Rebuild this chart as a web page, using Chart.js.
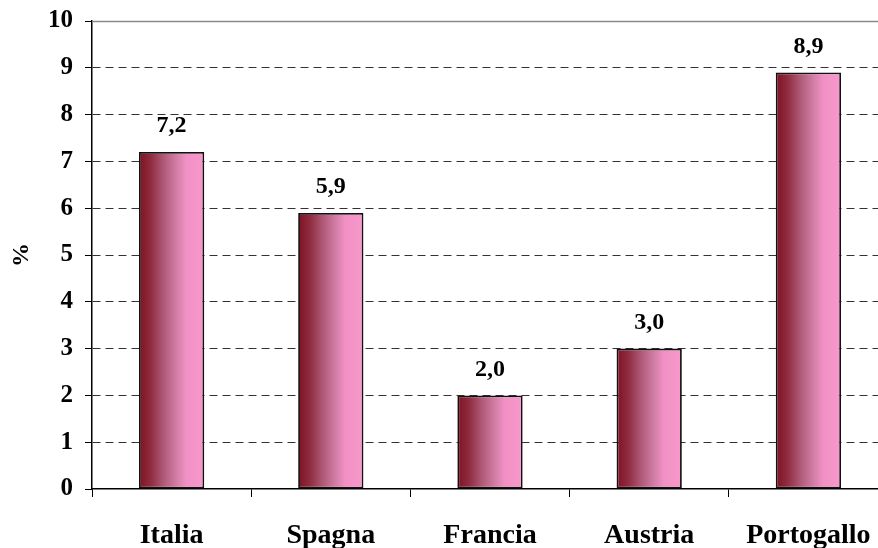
<!DOCTYPE html>
<html>
<head>
<meta charset="utf-8">
<script src="https://cdn.jsdelivr.net/npm/chart.js@4/dist/chart.umd.min.js"></script>
<style>
  html, body { margin: 0; padding: 0; background: #fff; overflow: hidden; }
  #wrap { width: 900px; height: 548px; }
</style>
</head>
<body>
<div id="wrap"><canvas id="c" width="900" height="548"></canvas></div>
<script>
// Paesi e valori percentuali
const paesi = ['Italia', 'Spagna', 'Francia', 'Austria', 'Portogallo'];
const valori = [7.2, 5.9, 2.0, 3.0, 8.9];
const tickY = [0, 1, 2, 3, 4, 5, 6, 7, 8, 9, 10];

const SERIF = "'Liberation Serif', 'Times New Roman', serif";
const BAR_FRACTION = 0.41;

// Horizontal gradient for each bar, from dark red to pink
function barGradient(context) {
  const chart = context.chart;
  const xs = chart.scales.x;
  if (!xs || !chart.chartArea) return '#c06090';
  const cw = xs.width / paesi.length;
  const cx = xs.getPixelForValue(context.dataIndex);
  const w = cw * BAR_FRACTION;
  const g = chart.ctx.createLinearGradient(cx - w / 2, 0, cx + w / 2, 0);
  g.addColorStop(0.00, '#7e1222');
  g.addColorStop(0.18, '#8f2c40');
  g.addColorStop(0.38, '#b05a78');
  g.addColorStop(0.58, '#d27ea6');
  g.addColorStop(0.72, '#f190c4');
  g.addColorStop(1.00, '#f898ca');
  return g;
}

// Value labels above the bars, decimal comma
const valueLabels = {
  id: 'valueLabels',
  afterDatasetsDraw(chart) {
    const ctx = chart.ctx;
    const meta = chart.getDatasetMeta(0);
    ctx.save();
    ctx.font = 'bold 24px ' + SERIF;
    ctx.fillStyle = '#000';
    ctx.textAlign = 'center';
    ctx.textBaseline = 'middle';
    meta.data.forEach((bar, i) => {
      const txt = valori[i].toFixed(1).replace('.', ',');
      ctx.fillText(txt, bar.x, bar.y - 26);
    });
    ctx.restore();
  }
};

// Solid grey line along the top of the plot area
const topLine = {
  id: 'topLine',
  beforeDatasetsDraw(chart) {
    const ctx = chart.ctx;
    const a = chart.chartArea;
    const y = Math.round(chart.scales.y.getPixelForValue(10)) + 0.5;
    ctx.save();
    ctx.strokeStyle = '#8a8a8a';
    ctx.lineWidth = 1.5;
    ctx.beginPath();
    ctx.moveTo(a.left, y);
    ctx.lineTo(a.right, y);
    ctx.stroke();
    ctx.restore();
  }
};

new Chart(document.getElementById('c'), {
  type: 'bar',
  data: {
    labels: paesi,
    datasets: [{
      data: valori,
      backgroundColor: barGradient,
      borderColor: '#111',
      borderWidth: 1.8,
      borderSkipped: false,
      barPercentage: BAR_FRACTION,
      categoryPercentage: 1.0
    }]
  },
  options: {
    responsive: false,
    devicePixelRatio: 1,
    animation: false,
    layout: { padding: { left: 0, top: 21, right: 12, bottom: 0 } },
    plugins: {
      legend: { display: false },
      tooltip: { enabled: false }
    },
    scales: {
      x: {
        grid: {
          display: true,
          drawOnChartArea: false,
          offset: true,
          color: '#000',
          tickColor: '#000',
          tickLength: 8,
          lineWidth: 1
        },
        border: { display: true, color: '#000', width: 1.5 },
        ticks: {
          color: '#000',
          font: { family: SERIF, size: 28, weight: 'bold' },
          padding: 22,
          maxRotation: 0,
          autoSkip: false
        },
        afterFit(scale) {
          scale.height = 59;
          scale.paddingLeft = 0;
          scale.paddingRight = 0;
        }
      },
      y: {
        min: 0,
        max: 10,
        afterBuildTicks(scale) { scale.ticks = tickY.map(v => ({ value: v })); },
        grid: {
          color: (c) => (c.tick && (c.tick.value === 0 || c.tick.value === 10)) ? 'rgba(0,0,0,0)' : '#333',
          lineWidth: 1,
          tickColor: '#000',
          tickLength: 7,
          tickBorderDash: []
        },
        border: { display: true, color: '#000', width: 1.5, dash: [8, 5] },
        ticks: {
          color: '#000',
          font: { family: SERIF, size: 25, weight: 'bold' },
          padding: 12,
          callback: (v) => String(v)
        },
        title: {
          display: true,
          text: '%',
          color: '#000',
          font: { family: SERIF, size: 24, weight: 'bold' },
          padding: { top: 7, bottom: 0 }
        },
        afterFit(scale) {
          scale.width = 92;
          scale.paddingTop = 0;
          scale.paddingBottom = 0;
        }
      }
    }
  },
  plugins: [valueLabels, topLine]
});
</script>
</body>
</html>
